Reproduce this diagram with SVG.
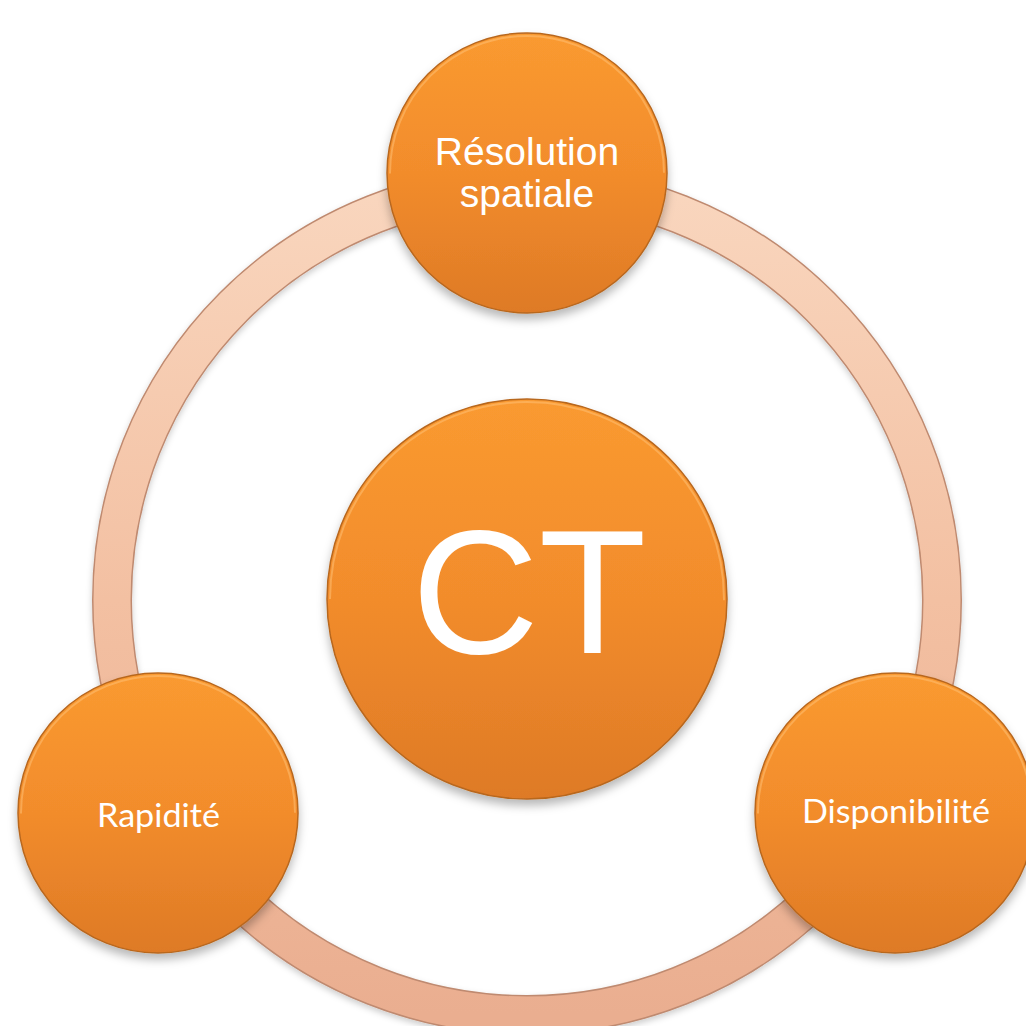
<svg xmlns="http://www.w3.org/2000/svg" width="1026" height="1026" viewBox="0 0 1026 1026">
  <defs>
    <linearGradient id="orange" x1="0" y1="0" x2="0" y2="1">
      <stop offset="0" stop-color="#FA9A30"/>
      <stop offset="0.5" stop-color="#F28C2C"/>
      <stop offset="1" stop-color="#DE7A26"/>
    </linearGradient>
    <linearGradient id="ringGrad" x1="0" y1="0" x2="0" y2="1">
      <stop offset="0" stop-color="#F9D6BE"/>
      <stop offset="0.5" stop-color="#F3C0A2"/>
      <stop offset="1" stop-color="#EAAE90"/>
    </linearGradient>
    <filter id="shadow" x="-20%" y="-20%" width="140%" height="150%">
      <feDropShadow dx="0" dy="6" stdDeviation="5" flood-color="#000" flood-opacity="0.28"/>
    </filter>
    <filter id="ringShadow" x="-10%" y="-10%" width="120%" height="120%">
      <feDropShadow dx="0" dy="3" stdDeviation="3" flood-color="#000" flood-opacity="0.2"/>
    </filter>
  </defs>
  <style>
    .node { fill: url(#orange); stroke: #B8671F; stroke-width: 1.5; filter: url(#shadow); }
    .hl { fill: none; stroke: #FFC37A; stroke-width: 2; stroke-opacity: 0.5; }
    .arial { font-family: "Liberation Sans", Arial, sans-serif; fill: #FFFFFF; text-anchor: middle; }
    .cal { font-family: Lato, "Open Sans", sans-serif; fill: #FFFFFF; text-anchor: middle; }
  </style>
  <rect width="1026" height="1026" fill="#FFFFFF"/>

  <g id="connectors">
    <circle cx="527" cy="600" r="415" fill="none" stroke="#BF8A70" stroke-width="40" filter="url(#ringShadow)"/>
    <circle cx="527" cy="600" r="415" fill="none" stroke="url(#ringGrad)" stroke-width="37"/>
  </g>

  <g id="node-ct">
    <circle class="node" cx="527" cy="599" r="200"/>
    <circle class="hl" cx="527" cy="599" r="197" stroke-dasharray="620 620" transform="rotate(180 527 599)"/>
    <text class="arial" x="529" y="653" font-size="176">CT</text>
  </g>

  <g id="node-resolution">
    <circle class="node" cx="527" cy="173" r="140"/>
    <circle class="hl" cx="527" cy="173" r="137" stroke-dasharray="430 430" transform="rotate(180 527 173)"/>
    <text class="arial" x="527" y="165" font-size="39">Résolution</text>
    <text class="arial" x="527" y="207" font-size="39">spatiale</text>
  </g>

  <g id="node-rapidite">
    <circle class="node" cx="158" cy="813" r="140"/>
    <circle class="hl" cx="158" cy="813" r="137" stroke-dasharray="430 430" transform="rotate(180 158 813)"/>
    <text class="cal" x="158.5" y="827" font-size="33" textLength="123" lengthAdjust="spacingAndGlyphs">Rapidité</text>
  </g>

  <g id="node-disponibilite">
    <circle class="node" cx="895" cy="813" r="140"/>
    <circle class="hl" cx="895" cy="813" r="137" stroke-dasharray="430 430" transform="rotate(180 895 813)"/>
    <text class="cal" x="896" y="823" font-size="33" textLength="188" lengthAdjust="spacingAndGlyphs">Disponibilité</text>
  </g>
</svg>
